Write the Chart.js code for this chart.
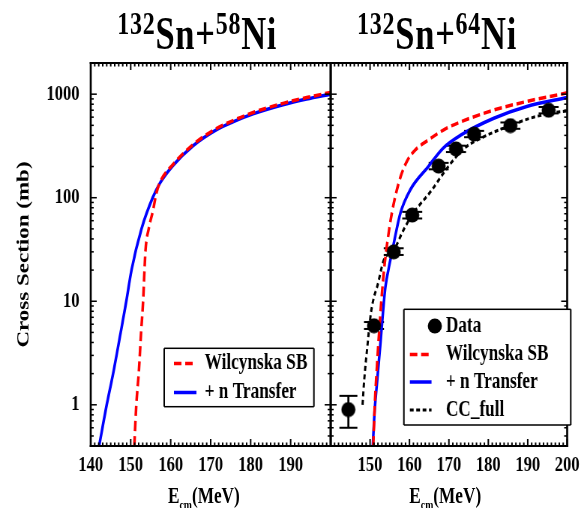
<!DOCTYPE html>
<html>
<head>
<meta charset="utf-8">
<script src="https://cdn.jsdelivr.net/npm/chart.js@4.4.1/dist/chart.umd.min.js"></script>
<style>
html,body{margin:0;padding:0;background:#fff;overflow:hidden;}
#wrap{position:absolute;left:0;top:0;width:779px;height:508px;transform-origin:0 0;transform:scaleX(0.7497);
  font-family:"Liberation Serif",serif;font-weight:bold;color:#000;}
#wrap canvas{position:absolute;left:0;top:0;}
.ttl{position:absolute;top:11px;font-size:46px;line-height:46px;white-space:nowrap;transform:translateX(-50%);letter-spacing:1px;}
.ttl sup{font-size:32px;line-height:0;vertical-align:baseline;position:relative;top:-15px;}
.xt{position:absolute;top:484px;font-size:23px;line-height:23px;white-space:nowrap;}
.xt sub{font-size:13px;line-height:0;vertical-align:baseline;position:relative;top:6px;}
</style>
</head>
<body>
<div id="wrap">
  <canvas id="left" width="779" height="508"></canvas>
  <canvas id="right" width="779" height="508"></canvas>
  <div class="ttl" style="left:263px"><sup>132</sup>Sn+<sup>58</sup>Ni</div>
  <div class="ttl" style="left:583px"><sup>132</sup>Sn+<sup>64</sup>Ni</div>
  <div class="xt" style="left:224px">E<sub>cm</sub>(MeV)</div>
  <div class="xt" style="left:546px">E<sub>cm</sub>(MeV)</div>
</div>
<script>
// axis ticks
const xTicks = [140, 150, 160, 170, 180, 190, 200];
const yTicks = [1, 10, 100, 1000];

// 132Sn+58Ni
const leftSbE = [150.9, 151.4, 152.0, 152.6, 153.1, 153.7, 154.5, 155.6, 156.4, 157.3, 160.6, 165.6, 171.4, 175.6, 180.6, 188.1, 194.0, 200.0];
const leftSbS = [0.4, 1.0, 2.0, 5.0, 10, 31, 50, 76, 110, 140, 210, 326, 465, 556, 665, 815, 928, 1040];
const leftTrE = [142.1, 144.0, 145.6, 147.5, 148.9, 150.2, 152.7, 155.5, 157.3, 160.6, 165.6, 171.4, 175.6, 180.6, 188.1, 194.0, 200.0];
const leftTrS = [0.4, 1.0, 2.0, 5.0, 10, 20, 50, 100, 138, 205, 318, 452, 540, 645, 790, 897, 1000];

// 132Sn+64Ni
const dataE = [144.5, 151.0, 156.0, 160.7, 167.4, 171.8, 176.4, 185.6, 195.3];
const dataS = [0.9, 5.8, 30, 68, 202, 296, 412, 497, 700];
const dataLo = [0.6, 5.4, 28, 63, 188, 276, 384, 463, 652];
const dataHi = [1.22, 6.3, 32.5, 73, 217, 318, 442, 533, 752];
const rightSbE = [150.8, 151.2, 151.7, 152.3, 152.9, 153.6, 154.5, 155.5, 156.8, 158.0, 159.5, 161.5, 164.75, 169.0, 173.1, 181.4, 189.75, 200];
const rightSbS = [0.4, 1.0, 2.2, 5, 10.5, 21, 40, 70, 119, 170, 230, 290, 360, 460, 542, 703, 850, 1030];
const rightTrE = [150.7, 151.1, 151.8, 152.7, 153.3, 153.9, 154.75, 156.0, 157.7, 160.2, 164.75, 168.5, 173.1, 181.4, 189.75, 200];
const rightTrS = [0.4, 0.8, 1.7, 4.2, 8, 13.8, 21, 36, 71, 119, 199, 300, 404, 585, 760, 929];
const ccE = [148.1, 148.5, 149.3, 150.2, 151.0, 151.8, 153.5, 156.0, 158.5, 161.0, 165.4, 169.8, 173.9, 178.9, 184.8, 190.6, 195.6, 200];
const ccS = [1.0, 1.7, 3.6, 7.6, 11, 13.8, 25, 31, 49, 71, 115, 199, 300, 389, 485, 585, 653, 690];

// whole figure is squashed horizontally, so vertical strokes get widened
const VW = 779 / 584;
const FONT = 'Liberation Serif';

function pts(xs, ys){ return xs.map((x, i) => ({x: x, y: ys[i]})); }

// filled ellipse marker (looks round after the squash)
const dot = document.createElement('canvas');
dot.width = 20; dot.height = 16;
(function(){
  const c = dot.getContext('2d');
  c.fillStyle = '#000';
  c.beginPath();
  c.ellipse(10, 8, 9.4, 7.6, 0, 0, Math.PI * 2);
  c.fill();
})();

function line(label, xs, ys, color, dash, width){
  return {label: label, data: pts(xs, ys), showLine: true, borderColor: color, backgroundColor: color,
    borderDash: dash, borderWidth: width || 3.5, pointRadius: 0, cubicInterpolationMode: 'monotone'};
}

// frame with inside ticks on all four sides
const frame = {
  id: 'frame',
  afterDatasetsDraw(chart){
    const {ctx, chartArea: a, scales: {x, y}} = chart;
    ctx.save();
    ctx.fillStyle = '#000';
    for (let v = xTicks[0]; v <= xTicks[xTicks.length - 1]; v++) {
      const px = x.getPixelForValue(v);
      const len = xTicks.includes(v) ? 7 : 3.5;
      ctx.fillRect(px - 0.75 * VW, a.top, 1.5 * VW, len);
      ctx.fillRect(px - 0.75 * VW, a.bottom - len, 1.5 * VW, len);
    }
    for (let d = -1; d <= 3; d++) {
      for (let m = 1; m <= 9; m++) {
        const v = m * Math.pow(10, d);
        if (v < 0.41 || v > 1990) continue;
        const py = y.getPixelForValue(v);
        const len = (m === 1 ? 6 : 3) * VW;
        ctx.fillRect(a.left, py - 0.75, len, 1.5);
        ctx.fillRect(a.right - len, py - 0.75, len, 1.5);
      }
    }
    ctx.fillRect(a.left - VW, a.top - 1, a.width + 2 * VW, 2);
    ctx.fillRect(a.left - VW, a.bottom - 1, a.width + 2 * VW, 2);
    ctx.fillRect(a.left - VW, a.top - 1, 2 * VW, a.height + 2);
    ctx.fillRect(a.right - VW, a.top - 1, 2 * VW, a.height + 2);
    ctx.restore();
  }
};

// vertical error bars with caps
const errBars = {
  id: 'errBars',
  beforeDatasetsDraw(chart){
    const {ctx, scales: {x, y}} = chart;
    ctx.save();
    ctx.fillStyle = '#000';
    dataE.forEach((e, i) => {
      const px = x.getPixelForValue(e);
      const hi = y.getPixelForValue(dataHi[i]);
      const lo = y.getPixelForValue(dataLo[i]);
      const cap = (i === 0 ? 9 : 10) * VW;
      ctx.fillRect(px - VW, hi, 2 * VW, lo - hi);
      ctx.fillRect(px - cap, hi - 1, 2 * cap, 2);
      ctx.fillRect(px - cap, lo - 1, 2 * cap, 2);
    });
    ctx.restore();
  }
};

// boxed legend inside the plot
const boxLegend = {
  id: 'boxLegend',
  afterDraw(chart, args, o){
    const ctx = chart.ctx;
    const [x0, y0, x1, y1] = o.box;
    ctx.save();
    ctx.fillStyle = '#fff';
    ctx.fillRect(x0, y0, x1 - x0, y1 - y0);
    ctx.fillStyle = '#000';
    ctx.fillRect(x0, y0 - 0.75, x1 - x0, 1.5);
    ctx.fillRect(x0, y1 - 0.75, x1 - x0, 1.5);
    ctx.fillRect(x0 - VW * 0.75, y0, 1.5 * VW, y1 - y0);
    ctx.fillRect(x1 - VW * 0.75, y0, 1.5 * VW, y1 - y0);
    ctx.font = 'bold 23px "' + FONT + '"';
    ctx.textBaseline = 'middle';
    o.rows.forEach((ry, i) => {
      const ds = chart.data.datasets[i];
      if (ds.showLine) {
        ctx.strokeStyle = ds.borderColor;
        ctx.lineWidth = ds.borderWidth;
        ctx.setLineDash(ds.borderDash || []);
        ctx.beginPath();
        ctx.moveTo(o.line[0], ry);
        ctx.lineTo(o.line[1], ry);
        ctx.stroke();
        ctx.setLineDash([]);
      } else {
        ctx.drawImage(dot, o.dot - dot.width / 2, ry - dot.height / 2);
      }
      ctx.fillStyle = '#000';
      ctx.fillText(ds.label, o.text, ry);
    });
    ctx.restore();
  }
};

function options(side, legend){
  const tickFont = {family: FONT, weight: 'bold', size: 22};
  return {
    responsive: false,
    animation: false,
    events: [],
    layout: {padding: side === 'left' ? {left: 0, right: 338, top: 63, bottom: 0} : {left: 441, right: 18, top: 63, bottom: 0}},
    plugins: {legend: {display: false}, tooltip: {enabled: false}, boxLegend: legend},
    scales: {
      x: {
        type: 'linear', min: 140, max: 200,
        grid: {display: false, drawTicks: false}, border: {display: false},
        afterBuildTicks: s => { s.ticks = xTicks.map(v => ({value: v})); },
        afterFit: s => { s.height = 62; },
        ticks: {
          autoSkip: false, maxRotation: 0, padding: 6, color: '#000', font: tickFont,
          callback: v => (side === 'left' ? v === 200 : v === 140) ? null : String(v)
        }
      },
      y: {
        type: 'logarithmic', min: 0.4, max: 2000,
        display: side === 'left',
        grid: {display: false, drawTicks: false}, border: {display: false},
        afterBuildTicks: s => { s.ticks = yTicks.map(v => ({value: v})); },
        afterFit: s => { s.width = side === 'left' ? 121 : 0; },
        ticks: {padding: 15, color: '#000', font: tickFont, callback: v => String(v)},
        title: {display: true, text: 'Cross Section (mb)', color: '#000',
          font: {family: FONT, weight: 'bold', size: 23}, padding: {top: 18, bottom: 0}}
      }
    }
  };
}

new Chart(document.getElementById('left'), {
  type: 'scatter',
  data: {datasets: [
    line('Wilcynska SB', leftSbE, leftSbS, '#ff0000', [10, 5]),
    line('+ n Transfer', leftTrE, leftTrS, '#0000ff', [])
  ]},
  options: options('left', {box: [219, 348.3, 418.7, 406.7], rows: [363.5, 392.5], line: [232, 262], text: 273}),
  plugins: [frame, boxLegend]
});

new Chart(document.getElementById('right'), {
  type: 'scatter',
  data: {datasets: [
    {label: 'Data', data: pts(dataE, dataS), showLine: false, pointStyle: dot, pointRadius: 8,
      backgroundColor: '#000', borderColor: '#000'},
    line('Wilcynska SB', rightSbE, rightSbS, '#ff0000', [10, 5]),
    line('+ n Transfer', rightTrE, rightTrS, '#0000ff', []),
    line('CC_full', ccE, ccS, '#000000', [5, 3.5], 3)
  ]},
  options: options('right', {box: [538.7, 309.3, 761.3, 425], rows: [326, 354.5, 382, 410], line: [546.7, 575.6], dot: 580, text: 594.7}),
  plugins: [frame, errBars, boxLegend]
});
</script>
</body>
</html>
